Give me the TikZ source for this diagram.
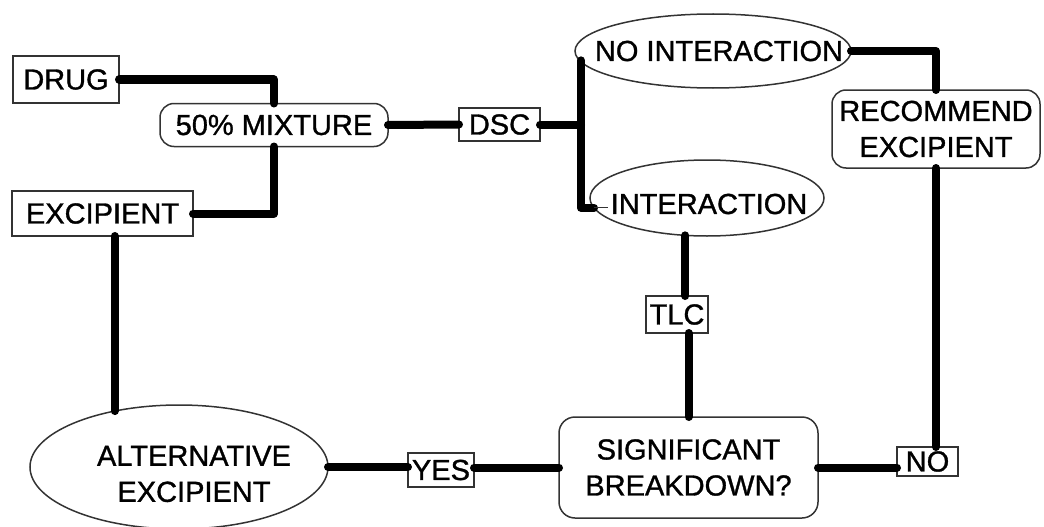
\documentclass[tikz,border=0pt]{standalone}
\usepackage{fontspec}
\setmainfont{Liberation Sans}
\newfontfamily\diagfont{Liberation Sans}[FakeBold=1.1]
\usetikzlibrary{shapes.geometric}
\tikzset{
  box/.style={draw=black!80, line width=1.5pt, rectangle, inner sep=0pt, outer sep=0pt, fill=white},
  rbox/.style={box, rounded corners=#1},
  oval/.style={draw=black!80, line width=1.5pt, ellipse, inner sep=0pt, outer sep=0pt},
  txt/.style={font=\diagfont\fontsize{29}{36}\selectfont, align=center},
  conn/.style={line width=8pt, line cap=round, line join=round, black},
  thinline/.style={line width=1.2pt, black!80}
}
\begin{document}
\begin{tikzpicture}[x=1pt,y=-1pt]
\useasboundingbox (0,0) rectangle (1044,527);
\node[box, txt, minimum width=106pt, minimum height=47pt] (drug) at (66,79.5) {DRUG};
\node[rbox=14pt, txt, minimum width=228pt, minimum height=43pt] (mix) at (274,125) {50\% MIXTURE};
\node[box, txt, minimum width=181pt, minimum height=45pt] (exc) at (102.5,213.5) {EXCIPIENT};
\node[box, txt, minimum width=81pt, minimum height=33pt] (dsc) at (499.5,124.5) {DSC};
\node[oval, minimum width=276pt, minimum height=74pt,
      label={[txt, xshift=6pt]center:NO INTERACTION}] (noint) at (713,51) {};
\node[oval, minimum width=234pt, minimum height=76pt,
      label={[txt, xshift=2pt, yshift=-6pt]center:INTERACTION}] (intr) at (707,198) {};
\node[rbox=14pt, txt, minimum width=208pt, minimum height=78pt] (rec) at (936,129) {RECOMMEND\\EXCIPIENT};
\node[box, txt, minimum width=62pt, minimum height=37pt] (tlc) at (677,314.5) {TLC};
\node[rbox=16pt, txt, minimum width=259pt, minimum height=101pt] (sig) at (688.5,467.5) {SIGNIFICANT\\BREAKDOWN?};
\node[box, txt, minimum width=61pt, minimum height=29pt] (no) at (927.5,461.5) {NO};
\node[box, txt, minimum width=66pt, minimum height=34pt] (yes) at (441,470) {YES};
\node[oval, minimum width=298pt, minimum height=124pt,
      label={[txt, xshift=15pt, yshift=-7pt]center:ALTERNATIVE\\EXCIPIENT}] (alt) at (179,467) {};
\coordinate (br) at (581,124.5);
% connectors
\draw[conn] (drug.east) -| (mix.north);
\draw[conn] (exc.east) -| (mix.south);
\draw[conn] (mix.east) -- (dsc.west);
\draw[conn] (dsc.east) -- (br);
\draw[conn] (br |- noint.184) -- (br |- intr.185) -- (intr.185);
\draw[thinline] (intr.185) -- ++(14,0);
\draw[conn] (noint.east) -| (rec.north);
\draw[conn] (rec.south) -- (rec.south |- no.north);
\draw[conn] (sig.east) -- (sig.east -| no.west);
\draw[conn] (intr.240) -- (intr.240 |- tlc.north);
\draw[conn] (sig.north) -- (sig.north |- tlc.south);
\draw[conn] (alt.east) -- (alt.east -| yes.west);
\draw[conn] (yes.east |- sig.west) -- (sig.west);
\draw[conn] (exc.south -| alt.139) -- (alt.139);
\end{tikzpicture}
\end{document}
